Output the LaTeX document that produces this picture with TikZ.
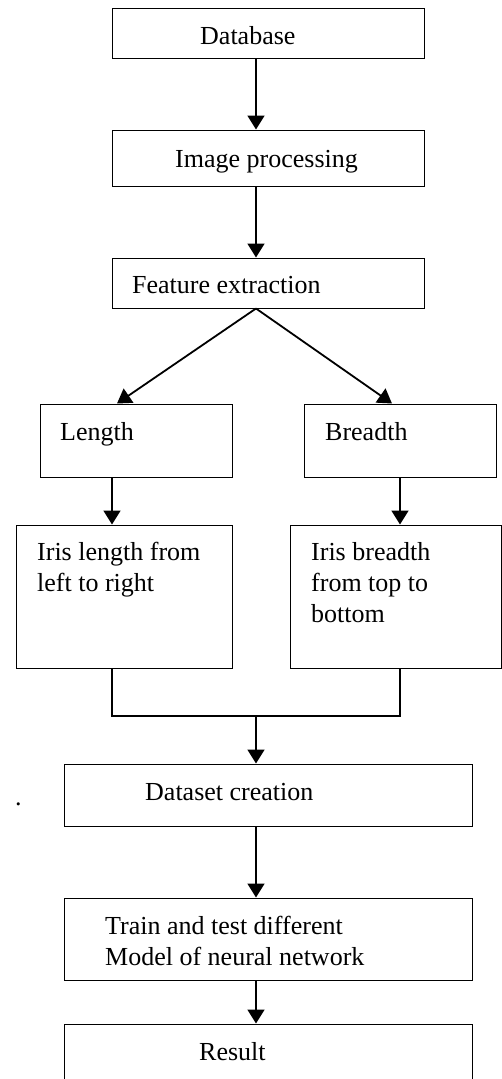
\documentclass[tikz,border=0pt]{standalone}
\usepackage{fontspec}
\setmainfont{Liberation Serif}
\usetikzlibrary{arrows.meta}
\begin{document}
\begin{tikzpicture}[x=1pt,y=-1pt,
  box/.style={draw=black,line width=1pt,rectangle,inner sep=0pt},
  arr/.style={draw=black,line width=1.8pt,-{Triangle[length=14pt,width=17pt]}},
  con/.style={draw=black,line width=1.2pt},
  lbl/.style={anchor=base west,inner sep=0pt,font=\fontsize{26}{31}\selectfont,align=left}]
\useasboundingbox (0,0) rectangle (502,1079);
\clip (0,0) rectangle (502,1079);
% boxes
\node[box,minimum width=312pt,minimum height=50pt] (db) at (268,33) {};
\node[box,minimum width=312pt,minimum height=56pt] (ip) at (268,158) {};
\node[box,minimum width=312pt,minimum height=50pt] (fe) at (268,283) {};
\node[box,minimum width=192pt,minimum height=73pt] (len) at (136,440.5) {};
\node[box,minimum width=192pt,minimum height=73pt] (br) at (400,440.5) {};
\node[box,minimum width=216pt,minimum height=143pt] (il) at (124,596.5) {};
\node[box,minimum width=211pt,minimum height=143pt] (ib) at (395.5,596.5) {};
\node[box,minimum width=408pt,minimum height=62pt] (ds) at (268,795) {};
\node[box,minimum width=408pt,minimum height=82pt] (tr) at (268,939) {};
\node[box,minimum width=408pt,minimum height=80pt] (res) at (268,1064) {};
% texts (multi-line nodes: base = last line)
\node[lbl] (tdb) at (200,44) {Database};
\node[lbl] (tip) at (175,167) {Image processing};
\node[lbl] (tfe) at (132,293) {Feature extraction};
\node[lbl] (tlen) at (60,440) {Length};
\node[lbl] (tbr) at (325,440) {Breadth};
\node[lbl] (til) at (37,591) {Iris length from\\left to right};
\node[lbl] (tib) at (311,622) {Iris breadth\\from top to\\bottom};
\node[lbl] (tds) at (145,800) {Dataset creation};
\node[lbl] (ttr) at (105,965) {Train and test different\\Model of neural network};
\node[lbl] (tres) at (199,1060) {Result};
\node[lbl] (dot) at (15,805) {.};
% connector coordinates
\coordinate (ax) at (256,0);
\coordinate (lx) at (117,0);
\coordinate (rx) at (392,0);
\coordinate (lv) at (112,0);
\coordinate (rv) at (400,0);
\coordinate (jl) at (112,716);
\coordinate (jr) at (400,716);
\coordinate (jm) at (256,716);
% arrows
\draw[arr] (db.south -| ax) -- (ip.north -| ax);
\draw[arr] (ip.south -| ax) -- (fe.north -| ax);
\draw[arr] (fe.south -| ax) -- (len.north -| lx);
\draw[arr] (fe.south -| ax) -- (br.north -| rx);
\draw[arr] (len.south -| lv) -- (il.north -| lv);
\draw[arr] (br.south -| rv) -- (ib.north -| rv);
\draw[con] (il.south -| jl) -- (jl) -- (jr) -- (ib.south -| jr);
\draw[arr] (jm) -- (ds.north -| ax);
\draw[arr] (ds.south -| ax) -- (tr.north -| ax);
\draw[arr] (tr.south -| ax) -- (res.north -| ax);
\end{tikzpicture}
\end{document}
